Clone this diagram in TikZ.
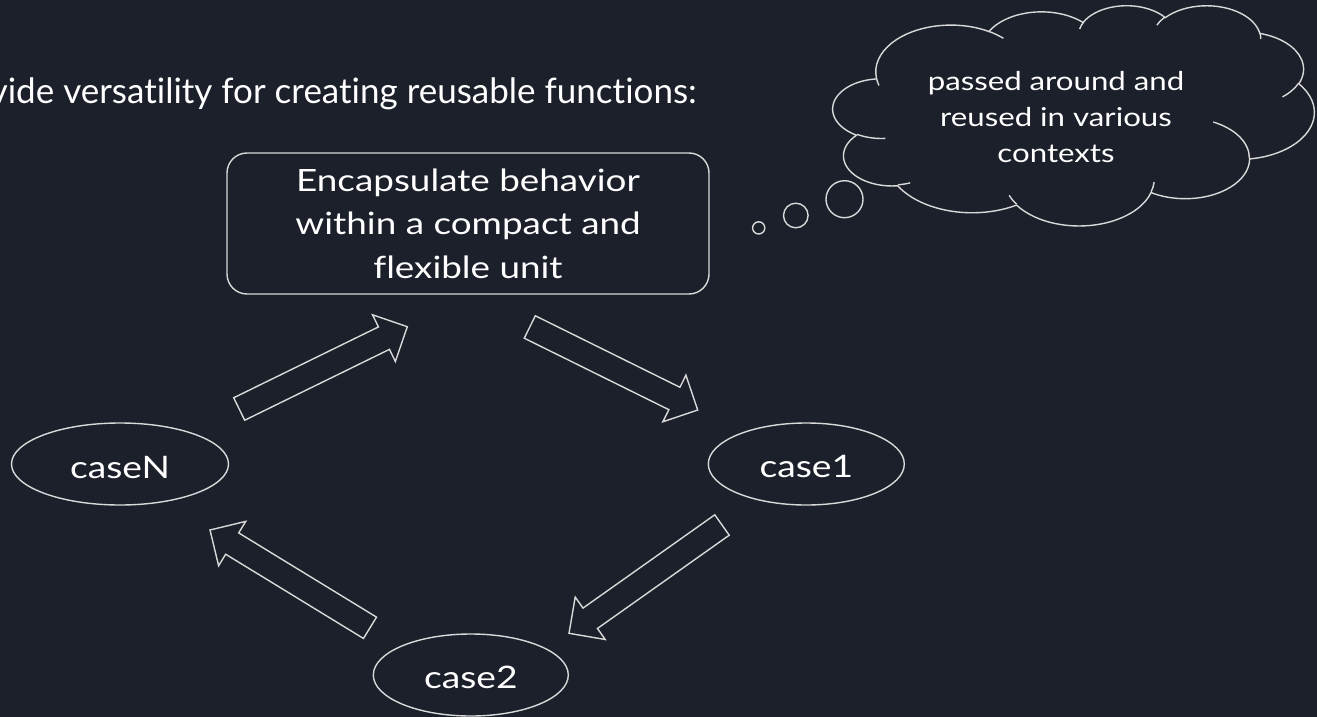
\documentclass[tikz,border=0pt]{standalone}
\usepackage{fontspec}
\setmainfont{Lato}[Ligatures=NoCommon]
\newfontfamily\wf{Lato}[FakeStretch=1.2, Ligatures=NoCommon]
\usetikzlibrary{calc,shapes.geometric}
\definecolor{bg}{HTML}{1C202B}
\definecolor{ln}{HTML}{D9D9D9}
\newcommand\blockarrow[2]{%
  \coordinate (#2n) at ($(#2)!26pt!(#1)$);
  \draw[blk] ($(#1)!12.5pt!90:(#2)$) -- ($(#2n)!12.5pt!90:(#2)$) -- ($(#2n)!26pt!90:(#2)$) -- (#2) -- ($(#2n)!26pt!-90:(#2)$) -- ($(#2n)!12.5pt!-90:(#2)$) -- ($(#1)!12.5pt!-90:(#2)$) -- cycle;}
\begin{document}
\begin{tikzpicture}[x=1pt,y=-1pt,
  every node/.style={text=white},
  lw/.style={draw=ln, line width=1.4pt},
  blk/.style={lw, fill=bg, line join=miter},
  casebox/.style={lw, ellipse, inner sep=0pt, minimum height=82pt, text depth=0pt, font=\wf\fontsize{31}{36}\selectfont},
  oa/.style n args={4}{insert path={arc[x radius={#1*0.0111343pt}, y radius={#2*0.0050926pt}, start angle={-(#3)-vd(#3,#1,#2)}, delta angle={-(#4)-vd((#3)+(#4),#1,#2)+vd(#3,#1,#2)}]}},
  declare function={vd(\ang,\wr,\hr)=atan((\wr-\hr)*sin(\ang)*cos(\ang)/(\hr*cos(\ang)*cos(\ang)+\wr*sin(\ang)*sin(\ang)));}
]
\fill[bg] (0,0) rectangle (1317,717);
\useasboundingbox (0,0) rectangle (1317,717);

\node[anchor=base east, inner sep=0pt, font=\fontsize{35}{40}\selectfont] (title) at (697,103) {vide versatility for creating reusable functions:};

\node[lw, rounded corners=20pt, minimum width=482pt, minimum height=141pt, align=center, font=\wf\fontsize{30.7}{43.5}\selectfont] (box) at (468,223.5) {Encapsulate behavior\\within a compact and\\flexible unit};

\node[casebox, minimum width=217pt, text height=28.5pt] (caseN) at (120,464) {caseN};
\node[casebox, minimum width=196pt, text height=27.5pt] (case1) at (806.3,464) {case1};
\node[casebox, minimum width=195pt, text height=27pt] (case2) at (470.8,675) {case2};

\coordinate (aT) at (239.2,409); \coordinate (aH) at (407.3,326.7);
\coordinate (bT) at (529.8,327); \coordinate (bH) at (697.7,410);
\coordinate (cT) at (722,525);   \coordinate (cH) at (569,633.3);
\coordinate (dT) at (370,627.8); \coordinate (dH) at (210,530);
\blockarrow{aT}{aH}
\blockarrow{bT}{bH}
\blockarrow{cT}{cH}
\blockarrow{dT}{dH}

% thought bubbles
\draw[lw, fill=bg] (844.5,199.2) circle[radius=18.5pt];
\draw[lw, fill=bg] (795.8,215.5) circle[radius=12.3pt];
\draw[lw, fill=bg] (758.7,227.9) circle[radius=6.1pt];

\begin{scope}[shift={(833,5)}, x=0.0111343pt, y=-0.0050926pt]
\draw[lw, fill=bg] (3900,14370)
  [oa={6753}{9190}{-190.4875}{123.7805}]
  [oa={5333}{7267}{-144.1024}{89.9452}]
  [oa={4365}{5945}{-145.8079}{99.7230}]
  [oa={4857}{6595}{-130.9861}{117.2417}]
  [oa={5333}{7273}{-78.7089}{109.0269}]
  [oa={6775}{9220}{-46.2673}{130.2690}]
  [oa={5785}{7867}{0.6250}{114.0333}]
  [oa={6752}{9215}{22.4516}{115.1726}]
  [oa={7720}{10543}{66.2426}{75.7110}]
  [oa={4360}{5918}{-274.9421}{146.7356}]
  [oa={4345}{5945}{-246.8285}{152.5189}] -- cycle;
\draw[lw] (4693,26177) [oa={4345}{5945}{86.7420}{26.4295}];
\draw[lw] (6928,34899) [oa={4360}{5918}{73.6105}{11.4475}];
\draw[lw] (16478,39090) [oa={6752}{9215}{137.6242}{14.0811}];
\draw[lw] (28827,34751) [oa={6752}{9215}{6.4533}{15.9984}];
\draw[lw] (34129,22954) [oa={5785}{7867}{-70.2924}{70.9174}];
\draw[lw] (41798,15354) [oa={5333}{7273}{30.3180}{27.7515}];
\draw[lw] (38324,5426) [oa={4857}{6595}{-13.7443}{14.8589}];
\draw[lw] (29078,3952) [oa={4857}{6595}{-149.1815}{18.1954}];
\draw[lw] (22141,4720) [oa={4365}{5945}{-163.4943}{17.6864}];
\draw[lw] (14000,5192) [oa={6753}{9190}{-66.7070}{12.3194}];
\draw[lw] (4127,15789) [oa={6753}{9190}{157.6544}{11.8582}];
\end{scope}
\node[align=center, inner sep=0pt, font=\wf\fontsize{26}{36}\selectfont] (cloudtext) at (1056,117) {passed around and\\reused in various\\contexts};
\end{tikzpicture}
\end{document}
